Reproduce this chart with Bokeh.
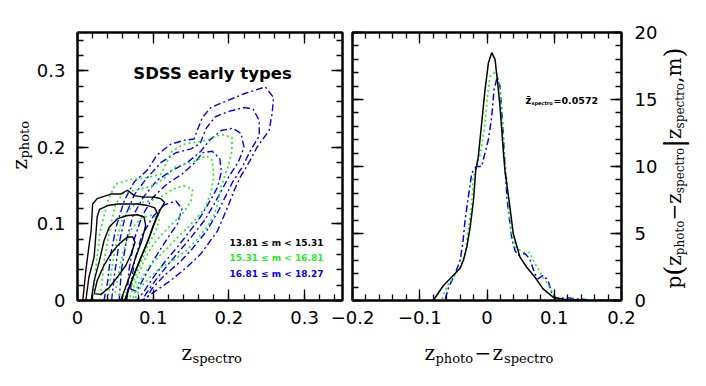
import numpy as np
from bokeh.plotting import figure
from bokeh.layouts import row, column
from bokeh.models import (Range1d, LinearAxis, FixedTicker, CustomJSTickFormatter, Label,
                          CustomLabelingPolicy)
from bokeh.embed import file_html
from bokeh.resources import INLINE

# ---------------- data ----------------
mag_bins = ["13.81 \u2264 m < 15.31", "15.31 \u2264 m < 16.81", "16.81 \u2264 m < 18.27"]
bin_colors = ["black", "#22ee22", "#0000ff"]
bin_dashes = ["solid", "2 3", "7 3 2 3"]
mean_zspec_text = "=0.0572"
title_text = "SDSS early types"

# contour lines (z_spectro, z_photo) for the brightest bin 13.81 <= m < 15.31
bright_cx = [
    [0.007, 0.011, 0.015, 0.018, 0.020, 0.026, 0.044, 0.057, 0.066, 0.075, 0.088, 0.101, 0.110, 0.115, 0.109, 0.103, 0.095, 0.086, 0.077, 0.068, 0.064],
    [0.011, 0.015, 0.022, 0.024, 0.026, 0.029, 0.040, 0.053, 0.066, 0.079, 0.093, 0.102, 0.106, 0.100, 0.093, 0.084, 0.075, 0.067, 0.062],
    [0.018, 0.022, 0.029, 0.035, 0.042, 0.053, 0.066, 0.079, 0.088, 0.090, 0.085, 0.077, 0.070, 0.062, 0.057],
    [0.022, 0.026, 0.035, 0.044, 0.055, 0.066, 0.073, 0.076, 0.071, 0.064, 0.053, 0.042, 0.031, 0.022],
]
bright_cy = [
    [0.000, 0.039, 0.070, 0.091, 0.126, 0.133, 0.139, 0.139, 0.144, 0.137, 0.135, 0.135, 0.133, 0.128, 0.118, 0.104, 0.083, 0.061, 0.039, 0.017, 0.000],
    [0.000, 0.030, 0.057, 0.083, 0.109, 0.119, 0.124, 0.126, 0.126, 0.126, 0.124, 0.121, 0.113, 0.098, 0.078, 0.057, 0.035, 0.013, 0.000],
    [0.000, 0.026, 0.052, 0.078, 0.096, 0.107, 0.111, 0.112, 0.109, 0.098, 0.078, 0.057, 0.035, 0.013, 0.000],
    [0.009, 0.026, 0.046, 0.061, 0.074, 0.083, 0.083, 0.076, 0.061, 0.046, 0.031, 0.017, 0.008, 0.009],
]

# contour lines for the middle bin 15.31 <= m < 16.81
mid_cx = [
    [0.020, 0.025, 0.030, 0.040, 0.050, 0.070, 0.090, 0.110, 0.125, 0.140, 0.170, 0.190, 0.204, 0.204, 0.199, 0.190, 0.186, 0.180, 0.170, 0.158, 0.145, 0.127, 0.110, 0.095, 0.083, 0.075],
    [0.030, 0.035, 0.042, 0.050, 0.060, 0.080, 0.100, 0.115, 0.130, 0.150, 0.170, 0.178, 0.180, 0.176, 0.168, 0.155, 0.140, 0.125, 0.110, 0.095, 0.082, 0.072],
    [0.040, 0.045, 0.052, 0.060, 0.075, 0.095, 0.110, 0.125, 0.140, 0.152, 0.150, 0.140, 0.125, 0.110, 0.098, 0.087, 0.075, 0.068],
    [0.050, 0.055, 0.062, 0.072, 0.085, 0.100, 0.108, 0.103, 0.092, 0.082, 0.072, 0.060, 0.050],
]
mid_cy = [
    [0.000, 0.050, 0.090, 0.130, 0.152, 0.158, 0.160, 0.165, 0.195, 0.204, 0.209, 0.217, 0.213, 0.195, 0.175, 0.150, 0.130, 0.110, 0.095, 0.080, 0.066, 0.053, 0.043, 0.030, 0.017, 0.000],
    [0.000, 0.050, 0.090, 0.125, 0.140, 0.145, 0.150, 0.160, 0.175, 0.180, 0.189, 0.183, 0.161, 0.140, 0.120, 0.105, 0.090, 0.075, 0.060, 0.045, 0.025, 0.000],
    [0.000, 0.040, 0.080, 0.110, 0.125, 0.130, 0.135, 0.145, 0.150, 0.145, 0.130, 0.115, 0.100, 0.085, 0.070, 0.050, 0.020, 0.000],
    [0.010, 0.040, 0.070, 0.095, 0.108, 0.112, 0.105, 0.090, 0.070, 0.045, 0.020, 0.005, 0.010],
]

# contour lines for the faintest bin 16.81 <= m < 18.27
faint_cx = [
    [0.035, 0.040, 0.044, 0.051, 0.062, 0.075, 0.092, 0.105, 0.123, 0.140, 0.154, 0.158, 0.165, 0.176, 0.193, 0.220, 0.248, 0.259, 0.257, 0.253, 0.237, 0.228, 0.215, 0.207, 0.200, 0.185, 0.163, 0.145, 0.123, 0.101, 0.085],
    [0.045, 0.049, 0.055, 0.063, 0.075, 0.090, 0.110, 0.130, 0.150, 0.162, 0.170, 0.182, 0.200, 0.220, 0.232, 0.240, 0.240, 0.228, 0.218, 0.205, 0.195, 0.185, 0.170, 0.152, 0.135, 0.115, 0.098, 0.090],
    [0.055, 0.058, 0.065, 0.073, 0.087, 0.105, 0.125, 0.145, 0.163, 0.175, 0.190, 0.205, 0.216, 0.220, 0.212, 0.200, 0.190, 0.180, 0.168, 0.152, 0.135, 0.118, 0.102, 0.090, 0.085],
    [0.065, 0.068, 0.075, 0.085, 0.100, 0.118, 0.138, 0.155, 0.165, 0.178, 0.188, 0.190, 0.185, 0.175, 0.163, 0.148, 0.132, 0.115, 0.100, 0.088, 0.078],
    [0.070, 0.075, 0.085, 0.100, 0.115, 0.130, 0.138, 0.132, 0.118, 0.102, 0.088, 0.078, 0.070],
]
faint_cy = [
    [0.000, 0.026, 0.061, 0.096, 0.131, 0.155, 0.170, 0.190, 0.204, 0.209, 0.211, 0.222, 0.239, 0.252, 0.259, 0.270, 0.279, 0.265, 0.244, 0.222, 0.200, 0.183, 0.161, 0.144, 0.126, 0.091, 0.061, 0.044, 0.026, 0.011, 0.000],
    [0.000, 0.035, 0.075, 0.110, 0.138, 0.158, 0.180, 0.193, 0.198, 0.205, 0.225, 0.240, 0.247, 0.252, 0.250, 0.235, 0.215, 0.195, 0.175, 0.155, 0.135, 0.115, 0.090, 0.068, 0.050, 0.033, 0.015, 0.000],
    [0.000, 0.040, 0.080, 0.110, 0.135, 0.157, 0.170, 0.180, 0.195, 0.210, 0.222, 0.225, 0.218, 0.200, 0.180, 0.162, 0.143, 0.125, 0.105, 0.085, 0.065, 0.045, 0.025, 0.008, 0.000],
    [0.000, 0.040, 0.080, 0.110, 0.135, 0.152, 0.165, 0.180, 0.193, 0.195, 0.185, 0.168, 0.148, 0.130, 0.110, 0.090, 0.070, 0.050, 0.030, 0.012, 0.000],
    [0.015, 0.050, 0.085, 0.110, 0.125, 0.130, 0.120, 0.100, 0.080, 0.055, 0.030, 0.012, 0.015],
]

# p(z_photo - z_spectro | z_spectro, m) for the three bins
dz_bright = [-0.080, -0.065, -0.040, -0.035, -0.030, -0.025, -0.020, -0.0168, -0.013, -0.008, -0.003, 0.002, 0.007, 0.0119, 0.0153, 0.0193, 0.0242, 0.0267, 0.034, 0.039, 0.0489, 0.0588, 0.0711, 0.0834, 0.0983, 0.118, 0.150, 0.200]
p_bright = [0.0, 1.1, 2.4, 3.0, 4.0, 5.5, 7.5, 9.7, 10.7, 13.2, 15.7, 17.7, 18.5, 18.0, 16.5, 14.5, 11.2, 9.7, 7.0, 5.0, 3.25, 2.5, 1.75, 0.87, 0.25, 0.05, 0.02, 0.0]
dz_mid = [-0.067, -0.060, -0.050, -0.040, -0.0326, -0.0277, -0.0227, -0.0203, -0.013, -0.0094, -0.003, 0.0005, 0.0044, 0.0133, 0.0183, 0.0217, 0.0256, 0.030, 0.034, 0.0415, 0.0538, 0.0637, 0.0711, 0.0834, 0.0958, 0.103, 0.133, 0.200]
p_mid = [0.12, 1.0, 1.75, 2.5, 3.5, 5.24, 7.24, 9.2, 10.5, 11.0, 13.2, 15.2, 16.7, 17.1, 16.2, 14.5, 11.2, 8.5, 5.7, 4.0, 3.6, 3.6, 2.75, 1.75, 0.75, 0.12, 0.07, 0.0]
dz_faint = [-0.062, -0.057, -0.0474, -0.040, -0.036, -0.0326, -0.0277, -0.0227, -0.016, -0.008, -0.003, 0.002, 0.007, 0.0104, 0.0153, 0.0193, 0.0232, 0.0267, 0.030, 0.0366, 0.0415, 0.0464, 0.0563, 0.0637, 0.0711, 0.076, 0.0834, 0.0909, 0.0958, 0.103, 0.118, 0.133, 0.153, 0.200]
p_faint = [0.12, 1.0, 2.0, 3.0, 4.25, 6.0, 7.74, 9.5, 10.0, 10.0, 11.0, 12.0, 13.7, 15.7, 16.7, 16.0, 13.2, 10.0, 7.5, 4.74, 3.74, 3.37, 3.5, 3.1, 2.0, 1.62, 1.87, 1.5, 0.62, 0.12, 0.2, 0.12, 0.05, 0.0]

left_xticks = [0, 0.1, 0.2, 0.3]
left_yticks = [0, 0.1, 0.2, 0.3]
right_xticks = [-0.2, -0.1, 0, 0.1, 0.2]
right_yticks = [0, 5, 10, 15, 20]

# ---------------- layout constants (image pixels) ----------------
TICK_FONT = "DejaVu Sans"
LAB_FONT = "DejaVu Serif"
W, H = 690, 370
F1_L, F1_R, F_T, F_B = 77, 342, 32, 300
F2_L, F2_R = 352, 621
W1 = F1_R + 5
SHIFT = 40
X2 = W1 - SHIFT
W2 = W - X2


def fmt(digits):
    return CustomJSTickFormatter(code=f"""
        if (Math.abs(tick) < 1e-9) {{ return "0"; }}
        const s = Math.abs(tick).toFixed({digits});
        return (tick < 0 ? "\\u2212" : "") + s;
    """)


def style_axis(ax, major, minor, labels, formatter=None, standoff=10):
    ax.ticker = FixedTicker(ticks=major, minor_ticks=minor)
    ax.major_tick_in = 11
    ax.major_tick_out = 0
    ax.minor_tick_in = 6
    ax.minor_tick_out = 0
    ax.major_tick_line_width = 1.3
    ax.minor_tick_line_width = 1.3
    ax.major_tick_line_color = "black"
    ax.minor_tick_line_color = "black"
    ax.axis_line_width = 2
    ax.axis_line_color = "black"
    if labels:
        ax.formatter = formatter
        ax.major_label_text_font = TICK_FONT
        ax.major_label_text_font_size = "18px"
        ax.major_label_standoff = standoff
        ax.major_label_text_color = "black"
    else:
        ax.major_label_policy = CustomLabelingPolicy(code="return []")
        ax.major_label_text_font_size = "1px"
        ax.major_label_standoff = 0


# ---------------- left panel ----------------
p1 = figure(width=W1, height=H, output_backend="svg", toolbar_location=None,
            x_range=Range1d(0, 0.35), y_range=Range1d(0, 0.35),
            min_border_left=F1_L, min_border_right=W1 - F1_R,
            min_border_top=F_T, min_border_bottom=H - F_B)
p1.grid.visible = False
p1.outline_line_color = "black"
p1.outline_line_width = 2
p1.background_fill_color = "white"
p1.border_fill_color = "white"

minor_l = [round(0.02 * i, 2) for i in range(18)]
style_axis(p1.xaxis[0], left_xticks, minor_l, True, fmt(1), standoff=10)
style_axis(p1.yaxis[0], left_yticks, minor_l, True, fmt(1), standoff=12)
ax_top = LinearAxis()
style_axis(ax_top, left_xticks, minor_l, False)
p1.add_layout(ax_top, "above")
ax_r = LinearAxis()
style_axis(ax_r, left_yticks, minor_l, False)
p1.add_layout(ax_r, "right")

for cx, cy, col, dash, lw in [(faint_cx, faint_cy, bin_colors[2], bin_dashes[2], 1.4),
                              (mid_cx, mid_cy, bin_colors[1], bin_dashes[1], 1.7),
                              (bright_cx, bright_cy, bin_colors[0], bin_dashes[0], 1.4)]:
    p1.multi_line(xs=cx, ys=cy, line_color=col, line_dash=dash, line_width=lw)


def d1(px, py):
    return (px - F1_L) / (F1_R - F1_L) * 0.35, (F_B - py) / (F_B - F_T) * 0.35


def d2(px, py):
    return -0.2 + (px - F2_L) / (F2_R - F2_L) * 0.4, (F_B - py) / (F_B - F_T) * 20


def d0(px, py):
    return px, py


def lab(p, conv, px, py, text, size, color="black", style="normal", font=LAB_FONT,
        angle=0.0, align="left"):
    x, y = conv(px, py)
    p.add_layout(Label(x=x, y=y, text=text, text_font=font, text_font_size=f"{size}px",
                       text_color=color, text_font_style=style, angle=angle,
                       text_align=align, text_baseline="alphabetic"))


lab(p1, d1, 212, 73, title_text, 16.5, style="bold", font=TICK_FONT, align="center")
for i, (t, c) in enumerate(zip(mag_bins, bin_colors)):
    lab(p1, d1, 229, 242 + 15.5 * i, t, 9, color=c, style="bold", font=TICK_FONT)

# ---------------- right panel ----------------
p2 = figure(width=W2, height=H, output_backend="svg", toolbar_location=None,
            x_range=Range1d(-0.2, 0.2), y_range=Range1d(0, 20), y_axis_location="right",
            min_border_left=F2_L - X2, min_border_right=W - F2_R,
            min_border_top=F_T, min_border_bottom=H - F_B)
p2.margin = (0, 0, 0, -SHIFT)
p2.grid.visible = False
p2.outline_line_color = "black"
p2.outline_line_width = 2
p2.background_fill_color = None
p2.border_fill_color = None

minor_rx = [round(-0.2 + 0.02 * i, 2) for i in range(21)]
minor_ry = list(range(0, 21))
style_axis(p2.xaxis[0], right_xticks, minor_rx, True, fmt(1), standoff=10)
style_axis(p2.yaxis[0], right_yticks, minor_ry, True, fmt(0), standoff=13)
ax_top2 = LinearAxis()
style_axis(ax_top2, right_xticks, minor_rx, False)
p2.add_layout(ax_top2, "above")
ax_l2 = LinearAxis()
style_axis(ax_l2, right_yticks, minor_ry, False)
p2.add_layout(ax_l2, "left")

p2.line(dz_faint, p_faint, line_color=bin_colors[2], line_dash=bin_dashes[2], line_width=1.5)
p2.line(dz_mid, p_mid, line_color=bin_colors[1], line_dash=bin_dashes[1], line_width=1.7)
p2.line(dz_bright, p_bright, line_color=bin_colors[0], line_width=1.5)

lab(p2, d2, 525, 100, "z\u0304", 10, style="bold", font=TICK_FONT)
lab(p2, d2, 531, 102, "spectro", 5, style="bold", font=TICK_FONT)
lab(p2, d2, 553, 100, mean_zspec_text, 9.5, style="bold", font=TICK_FONT)

# ---------------- transparent overlay for the axis titles ----------------
p0 = figure(width=W, height=H, output_backend="svg", toolbar_location=None,
            x_range=Range1d(0, W), y_range=Range1d(H, 0),
            x_axis_type=None, y_axis_type=None,
            min_border_left=0, min_border_right=0, min_border_top=0, min_border_bottom=0)
p0.margin = (-H, 0, 0, 0)
p0.outline_line_color = None
p0.background_fill_color = None
p0.border_fill_color = None
p0.grid.visible = False

# x label left: z_spectro
lab(p0, d0, 181, 352, "z", 20)
lab(p0, d0, 192, 358, "spectro", 13)
# y label left: z_photo (rotated)
lab(p0, d0, 19, 169, "z", 20, angle=np.pi / 2)
lab(p0, d0, 24, 158, "photo", 13, angle=np.pi / 2)
# x label right: z_photo - z_spectro
lab(p0, d0, 424, 352, "z", 20)
lab(p0, d0, 435, 358, "photo", 13)
lab(p0, d0, 474, 352, "\u2212", 20)
lab(p0, d0, 492, 352, "z", 20)
lab(p0, d0, 503.5, 358, "spectro", 13)
# y label right: p(z_photo - z_spectro | z_spectro, m)  (rotated)
pieces = [("p", 20, 0, 12.8), ("(", 26, 0, 10), ("z", 20, 0, 10.5), ("photo", 12, 6, 34.7),
          ("\u2212", 20, 0, 16.8), ("z", 20, 0, 10.5), ("spectro", 12, 6, 45.5),
          ("|", 26, 0, 8.8), ("z", 20, 0, 10.5), ("spectro", 12, 6, 45.5),
          (",", 20, 0, 6.4), ("m", 20, 0, 19), (")", 26, 0, 10)]
ypos = 288.0
for t, s, dx, w in pieces:
    lab(p0, d0, 673 + dx, ypos, t, s, angle=np.pi / 2)
    ypos -= w

layout = column(row(p1, p2), p0)
open("out.html", "w").write(file_html(layout, INLINE))
